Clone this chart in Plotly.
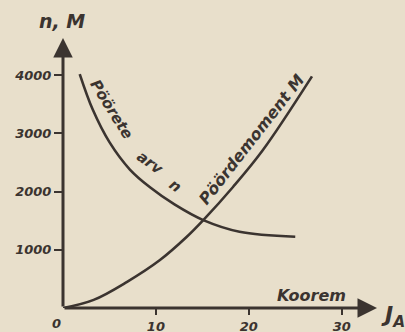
import plotly.graph_objects as go

# Load current (A) vs. speed n and torque M of a series-wound motor
n_load = [1.8, 3.2, 5.0, 7.2, 9.4, 12.0, 15.1, 19.0, 25.0]
n_speed = [4020, 3410, 2850, 2380, 2070, 1780, 1510, 1310, 1225]

m_load = [0, 3.3, 6.9, 10.4, 13.3, 15.1, 18.3, 21.5, 26.8]
m_torque = [0, 140, 450, 820, 1220, 1510, 2080, 2710, 3980]

x_ticks = [10, 20, 30]
y_ticks = [1000, 2000, 3000, 4000]
y_tick_text = ["1000", "2000", "3000", "4000"]

X_MAX = 33.8
Y_MAX = 4640

INK = "#3b3430"
PAPER = "#e8dfcb"
FONT = "DejaVu Sans"


def hand(size):
    return dict(family=FONT, size=size, color=INK, weight="bold", style="italic")


fig = go.Figure()
fig.add_trace(go.Scatter(x=n_load, y=n_speed, mode="lines",
                         line=dict(color=INK, width=2.6, shape="spline"),
                         hoverinfo="skip"))
fig.add_trace(go.Scatter(x=m_load, y=m_torque, mode="lines",
                         line=dict(color=INK, width=2.6, shape="spline"),
                         hoverinfo="skip"))

annotations = [
    # axes drawn as arrows
    dict(x=X_MAX, y=0, ax=0, ay=0, xref="x", yref="y", axref="x", ayref="y",
         text="", showarrow=True, arrowhead=2, arrowsize=1.3, arrowwidth=3,
         arrowcolor=INK),
    dict(x=0, y=Y_MAX, ax=0, ay=0, xref="x", yref="y", axref="x", ayref="y",
         text="", showarrow=True, arrowhead=2, arrowsize=1.3, arrowwidth=3,
         arrowcolor=INK),
    # curve labels
    dict(x=5.27, y=3403, text="Pöörete", textangle=58, font=hand(15)),
    dict(x=9.4, y=2490, text="arv", textangle=36, font=hand(15)),
    dict(x=12.1, y=2100, text="n", textangle=36, font=hand(15)),
    dict(x=20.3, y=2890, text="Pöördemoment M", textangle=-52, font=hand(16)),
    dict(x=26.7, y=223, text="Koorem", font=hand(16)),
    # axis titles
    dict(x=0, y=Y_MAX, yshift=17, xshift=-1, text="n, M", font=hand(19)),
    dict(x=X_MAX, y=0, xshift=16, yshift=-8, text="J<sub>A</sub>",
         font=hand(22)),
    # origin label
    dict(x=0, y=0, xshift=-7, yshift=-15, text="0", font=hand(13)),
]
for a in annotations:
    a.setdefault("showarrow", False)
    a.setdefault("xref", "x")
    a.setdefault("yref", "y")

fig.update_layout(
    width=405, height=332,
    margin=dict(l=63, r=28, t=38, b=24),
    paper_bgcolor=PAPER, plot_bgcolor=PAPER,
    showlegend=False,
    annotations=annotations,
    xaxis=dict(range=[0, X_MAX], showgrid=False, zeroline=False, showline=False,
               tickvals=x_ticks, ticks="outside", ticklen=6, tickwidth=2,
               tickcolor=INK, tickfont=hand(13), automargin=False,
               fixedrange=True),
    yaxis=dict(range=[0, Y_MAX], showgrid=False, zeroline=False, showline=False,
               tickvals=y_ticks, ticktext=y_tick_text, ticks="outside",
               ticklen=8, tickwidth=2, tickcolor=INK, tickfont=hand(13),
               automargin=False, fixedrange=True),
)

fig.write_html("out.html", config={"displayModeBar": False})
